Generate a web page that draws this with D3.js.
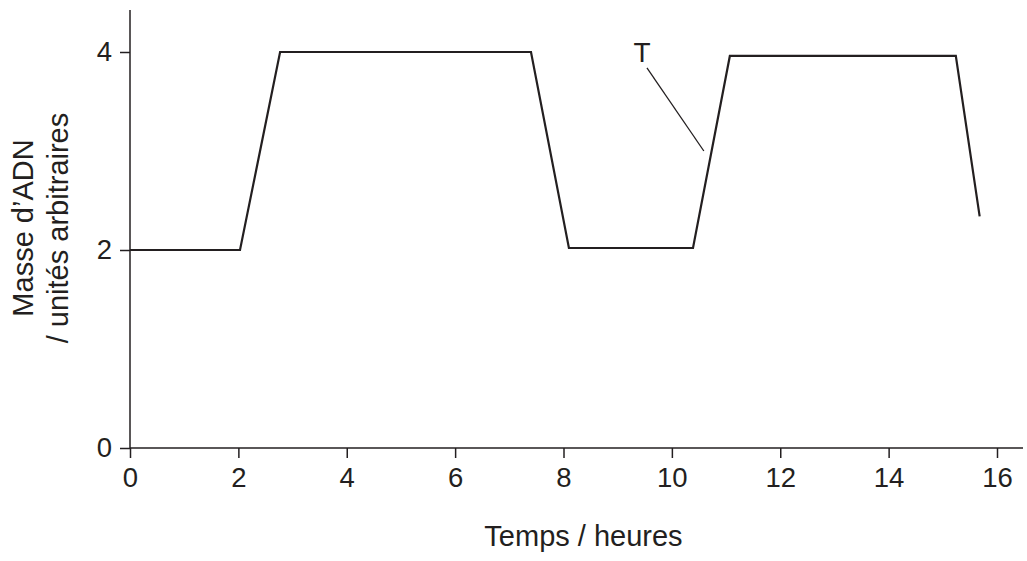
<!DOCTYPE html>
<html><head><meta charset="utf-8">
<script src="https://cdn.jsdelivr.net/npm/d3@7"></script>
<style>
body{margin:0;background:#fff;}
text{font-family:"Liberation Sans",Arial,sans-serif;fill:#231f20;}
</style></head>
<body><svg id="c" width="1027" height="561"></svg>
<script>
const timeValues = [0, 2.03, 2.77, 7.40, 8.10, 10.39, 11.07, 15.24, 15.68];
const dnaValues  = [2, 2, 4, 4, 2.02, 2.02, 3.96, 3.96, 2.34];
const xTicks = [0, 2, 4, 6, 8, 10, 12, 14, 16];
const yTicks = [0, 2, 4];
const annotationLabel = "T";
const annotationFrom = [9.54, 3.84];
const annotationTo = [10.59, 3.0];
const xTitle = "Temps / heures";
const yTitleLines = ["Masse d\u2019ADN", "/ unités arbitraires"];

const ink = "#231f20";
const svg = d3.select("#c");
const x = d3.scaleLinear().domain([0, 16]).range([130, 997]);
const y = d3.scaleLinear().domain([0, 4]).range([448, 52]);

// axes
const xa = svg.append("g").attr("transform", "translate(0,448)")
  .call(d3.axisBottom(x).tickValues(xTicks).tickSize(10).tickSizeOuter(0).tickPadding(9).tickFormat(d3.format("d")));
const ya = svg.append("g").attr("transform", "translate(130,0)")
  .call(d3.axisLeft(y).tickValues(yTicks).tickSize(10).tickSizeOuter(0).tickPadding(8).tickFormat(d3.format("d")));
[xa, ya].forEach(g => {
  g.select(".domain").remove();
  g.selectAll("line").attr("stroke", ink).attr("stroke-width", 1.5);
  g.selectAll("text").attr("font-size", 27.5).attr("fill", ink)
   .attr("font-family", '"Liberation Sans", Arial, sans-serif');
});
// extended axis lines
svg.append("line").attr("x1", x(0)).attr("x2", 1023).attr("y1", y(0)).attr("y2", y(0))
  .attr("stroke", ink).attr("stroke-width", 1.5);
svg.append("line").attr("x1", x(0)).attr("x2", x(0)).attr("y1", 10).attr("y2", y(0))
  .attr("stroke", ink).attr("stroke-width", 1.5);

// data line
const pts = timeValues.map((t, i) => [t, dnaValues[i]]);
svg.append("path").datum(pts)
  .attr("d", d3.line().x(d => x(d[0])).y(d => y(d[1])))
  .attr("fill", "none").attr("stroke", ink).attr("stroke-width", 2.2)
  .attr("stroke-linejoin", "miter");

// annotation
svg.append("line")
  .attr("x1", x(annotationFrom[0])).attr("y1", y(annotationFrom[1]))
  .attr("x2", x(annotationTo[0])).attr("y2", y(annotationTo[1]))
  .attr("stroke", ink).attr("stroke-width", 1.3);
svg.append("text").attr("x", x(annotationFrom[0]) - 5).attr("y", y(annotationFrom[1]) - 6)
  .attr("text-anchor", "middle").attr("font-size", 28).text(annotationLabel);

// titles
svg.append("text").attr("x", 583.5).attr("y", 546).attr("text-anchor", "middle")
  .attr("font-size", 29).text(xTitle);
const yt = svg.append("text").attr("transform", "translate(33,228) rotate(-90)")
  .attr("text-anchor", "middle").attr("font-size", 29);
yt.append("tspan").attr("x", 0).attr("y", 0).text(yTitleLines[0]);
yt.append("tspan").attr("x", 0).attr("y", 35).text(yTitleLines[1]);
</script></body></html>
